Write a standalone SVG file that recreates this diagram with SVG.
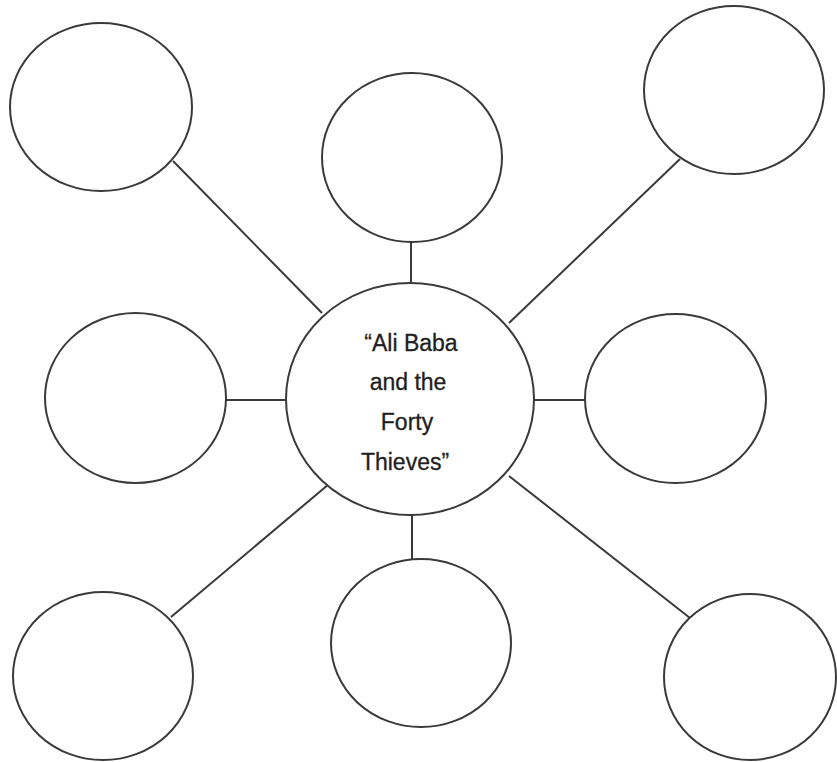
<svg xmlns="http://www.w3.org/2000/svg" width="837" height="762" viewBox="0 0 837 762">
<style>
.n{fill:#fff;stroke:#3a3a3a;stroke-width:2}
.c line{stroke:#3a3a3a;stroke-width:2}
.t{font-family:"Liberation Sans",Arial,sans-serif;font-size:23px;fill:#1e1e1e;text-anchor:middle;stroke:#1e1e1e;stroke-width:0.3}
</style>
<rect width="837" height="762" fill="#fff"/>
<g class="c" id="connectors">
<line x1="173" y1="161" x2="322" y2="313"/>
<line x1="411" y1="242" x2="411" y2="283"/>
<line x1="680" y1="159" x2="509" y2="323"/>
<line x1="226" y1="400" x2="286" y2="400"/>
<line x1="534" y1="400" x2="585" y2="400"/>
<line x1="171" y1="617" x2="329" y2="484"/>
<line x1="412" y1="515" x2="412" y2="559"/>
<line x1="690" y1="618" x2="509" y2="476"/>
</g>
<g id="top-left"><ellipse class="n" cx="101" cy="107" rx="91" ry="84"/></g>
<g id="top-center"><ellipse class="n" cx="412" cy="157.5" rx="90" ry="84.5"/></g>
<g id="top-right"><ellipse class="n" cx="734" cy="90" rx="90" ry="84"/></g>
<g id="middle-left"><ellipse class="n" cx="135.5" cy="398" rx="90.5" ry="85"/></g>
<g id="middle-right"><ellipse class="n" cx="675.5" cy="398.5" rx="90.5" ry="84.5"/></g>
<g id="bottom-left"><ellipse class="n" cx="103" cy="676" rx="90" ry="84"/></g>
<g id="bottom-center"><ellipse class="n" cx="421" cy="643" rx="90" ry="84"/></g>
<g id="bottom-right"><ellipse class="n" cx="750" cy="677" rx="86" ry="83"/></g>
<g id="center">
<ellipse class="n" cx="410" cy="399" rx="124" ry="116"/>
<text class="t" x="411" y="351">“Ali Baba</text>
<text class="t" x="408" y="390">and the</text>
<text class="t" x="407" y="430">Forty</text>
<text class="t" x="405" y="470">Thieves”</text>
</g>
</svg>
